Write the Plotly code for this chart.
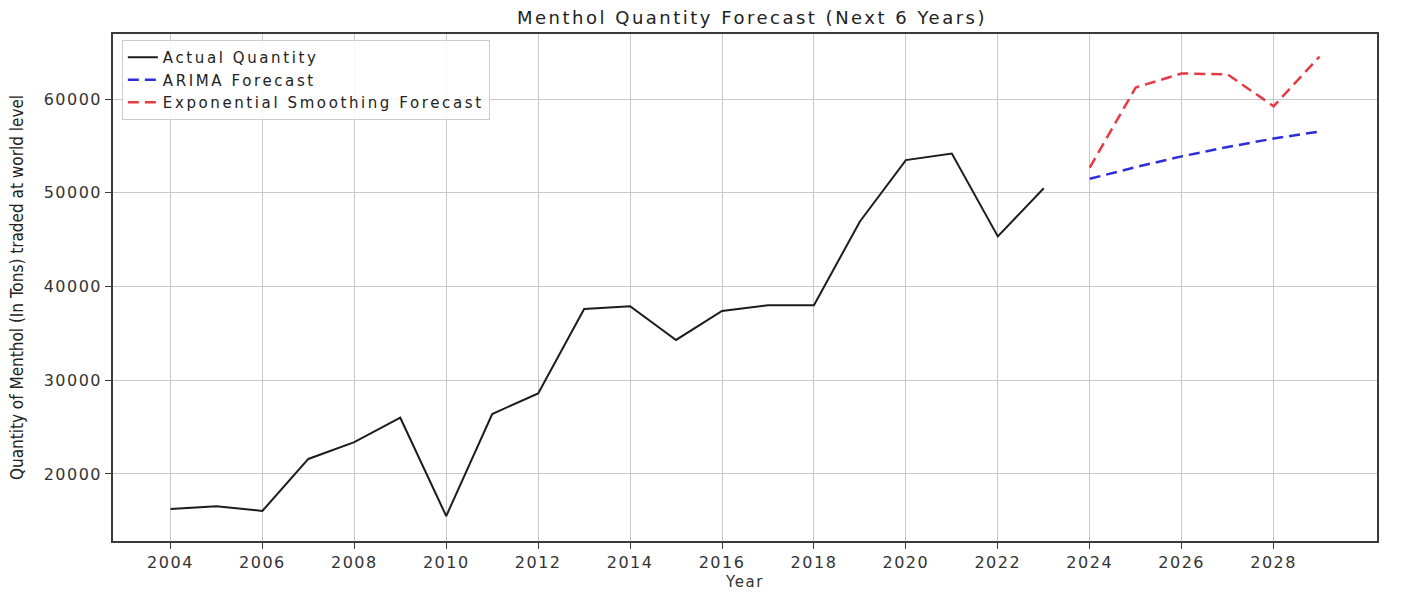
import plotly.graph_objects as go

# Historical traded quantity of menthol (tons)
years_actual = list(range(2004, 2024))
qty_actual = [16250, 16550, 16050, 21600, 23400, 26000, 15500, 26400, 28600, 37600,
              37900, 34300, 37400, 38000, 38000, 46950, 53500, 54200, 45350, 50500]

# Six-year forecasts
years_fc = list(range(2024, 2030))
qty_arima = [51500, 52750, 53900, 54900, 55800, 56550]
qty_ets = [52700, 61250, 62750, 62650, 59250, 64550]

tick_years = list(range(2004, 2030, 2))
y_ticks = [20000, 30000, 40000, 50000, 60000]

font_main = "DejaVu Sans, Verdana, sans-serif"


def spaced(text, px):
    """Wrap text in a span with extra letter spacing."""
    return f'<span style="letter-spacing:{px}px">{text}</span>'


fig = go.Figure()
fig.add_trace(go.Scatter(x=years_actual, y=qty_actual, mode="lines",
                         name=spaced("Actual Quantity", 2.6),
                         line=dict(color="#1c1c1c", width=2)))
fig.add_trace(go.Scatter(x=years_fc, y=qty_arima, mode="lines",
                         name=spaced("ARIMA Forecast", 2.6),
                         line=dict(color="#2e2ed6", width=2.5, dash="11px,6px")))
fig.add_trace(go.Scatter(x=years_fc, y=qty_ets, mode="lines",
                         name=spaced("Exponential Smoothing Forecast", 2.6),
                         line=dict(color="#e53a44", width=2.5, dash="11px,6px")))

axis_common = dict(showgrid=True, gridcolor="#c8c8c8", gridwidth=1,
                   showline=True, linecolor="#3a3a3a", linewidth=1.5, mirror=True,
                   ticks="outside", ticklen=6, tickcolor="#3a3a3a", automargin=False,
                   zeroline=False, tickfont=dict(family=font_main, size=16, color="#333333"))

fig.update_layout(
    width=1403, height=592,
    margin=dict(l=113, r=26, t=34, b=51),
    paper_bgcolor="white", plot_bgcolor="white",
    title=dict(text=spaced("Menthol Quantity Forecast (Next 6 Years)", 2.5),
               x=0.536, xanchor="center", y=0.97, yanchor="middle",
               font=dict(family=font_main, size=18, color="#222222")),
    xaxis=dict(range=[2002.75, 2030.25], tickvals=tick_years,
               ticktext=[spaced(str(v), 1.5) for v in tick_years],
               title=dict(text=spaced("Year", 1.5), standoff=6,
                          font=dict(family=font_main, size=15, color="#333333")),
               **axis_common),
    yaxis=dict(range=[12840, 66960], tickvals=y_ticks,
               ticktext=[spaced(str(v), 1.5) for v in y_ticks],
               title=dict(text="Quantity of Menthol (In Tons) traded at world level", standoff=16,
                          font=dict(family="Liberation Sans Narrow, DejaVu Sans Condensed, sans-serif",
                                    size=17, color="#222222")),
               **axis_common),
    legend=dict(x=0.007, y=0.988, xanchor="left", yanchor="top",
                bgcolor="rgba(255,255,255,0.85)", bordercolor="#cccccc", borderwidth=1,
                font=dict(family=font_main, size=15, color="#222222"),
                tracegroupgap=0),
    showlegend=True,
)

fig.write_html("out.html")
